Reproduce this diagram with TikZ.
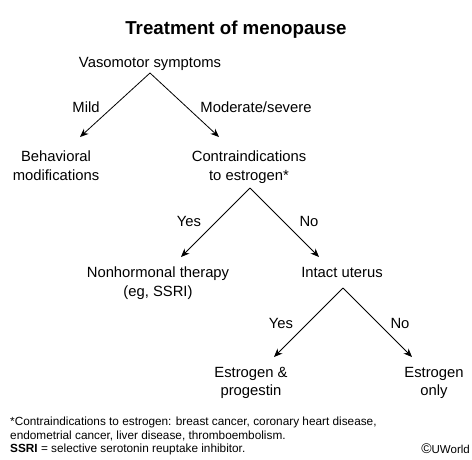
\documentclass[tikz,border=0pt]{standalone}
\usepackage{fontspec}
\setmainfont{Liberation Sans}
\usetikzlibrary{arrows.meta,positioning}

\begin{document}
\begin{tikzpicture}[x=1pt, y=-1pt,
    txt/.style={inner sep=0pt, anchor=north, align=center, font=\fontsize{14.8}{18.5}\selectfont},
    lbl/.style={inner sep=0pt, anchor=north, font=\fontsize{14.8}{18}\selectfont},
    title/.style={inner sep=0pt, anchor=north, font=\fontsize{18.7}{22}\selectfont\bfseries},
    note/.style={inner sep=0pt, anchor=north west, align=left, font=\fontsize{11.8}{13.5}\selectfont},
    arr/.style={-{Stealth[length=8.5pt, width=7pt]}, line width=0.8pt, black}]
\useasboundingbox (0,0) rectangle (472,459);
\node[title] (ttl) at (236,21) {Treatment of menopause};
% first split
\node[txt] (vaso) at (150,57) {Vasomotor symptoms};
\coordinate (vaso-split) at (150,73);
\node[txt] (behav) at (56,151) {Behavioral\\modifications};
\node[txt] (contra) at (249,151) {Contraindications\\to estrogen*};
\node[lbl] (mild) at (86,102) {Mild};
\node[lbl] (modsev) at (256,102) {Moderate/severe};
\draw[arr] (vaso-split) -- ([xshift=24pt, yshift=14pt]behav.north);
\draw[arr] (vaso-split) -- ([xshift=-30pt, yshift=14pt]contra.north);
% second split
\coordinate (contra-split) at (250,188);
\node[txt] (nonhorm) at (158,267) {Nonhormonal therapy\\(eg, SSRI)};
\node[txt] (intact) at (342,267) {Intact uterus};
\node[lbl] (yes1) at (189,216) {Yes};
\node[lbl] (no1) at (309,216) {No};
\draw[arr] (contra-split) -- ([xshift=23pt, yshift=10pt]nonhorm.north);
\draw[arr] (contra-split) -- ([xshift=-23pt, yshift=10pt]intact.north);
% third split
\coordinate (intact-split) at (343,288);
\node[txt] (estprog) at (251,367) {Estrogen \&\\progestin};
\node[txt] (estonly) at (434,367) {Estrogen\\only};
\node[lbl] (yes2) at (281,318) {Yes};
\node[lbl] (no2) at (400,318) {No};
\draw[arr] (intact-split) -- ([xshift=23pt, yshift=10pt]estprog.north);
\draw[arr] (intact-split) -- ([xshift=-22pt, yshift=10pt]estonly.north);
% footnote
\node[note] (fn) at (10,417) {*Contraindications to estrogen: breast cancer, coronary heart disease,\\
  endometrial cancer, liver disease, thromboembolism.\\
  \textbf{SSRI} = selective serotonin reuptake inhibitor.};
\node[inner sep=0pt, anchor=base east, font=\fontsize{11.5}{13}\selectfont] (cpr) at (470,453) {{\fontsize{14}{14}\selectfont\textcopyright}UWorld};
\end{tikzpicture}
\end{document}
